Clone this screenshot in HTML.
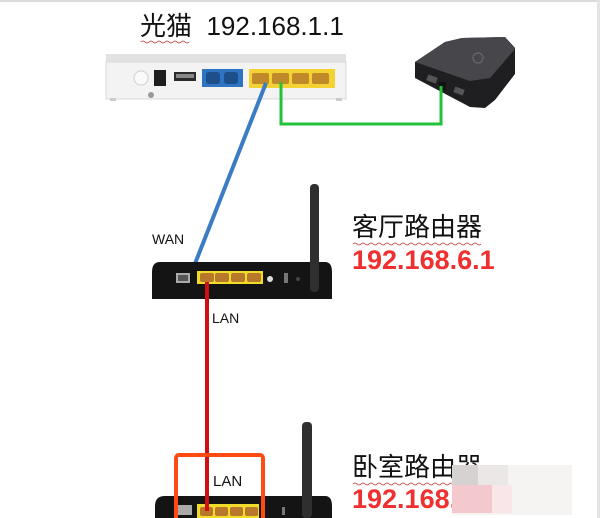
<!DOCTYPE html>
<html>
<head>
<meta charset="utf-8">
<style>
html,body{margin:0;padding:0;background:#fff;}
body{width:600px;height:518px;overflow:hidden;position:relative;font-family:"Liberation Sans","Noto Sans CJK SC",sans-serif;}
svg{position:absolute;left:0;top:0;}
.t{position:absolute;white-space:nowrap;line-height:1;}
</style>
</head>
<body>
<svg width="600" height="518" viewBox="0 0 600 518" style="z-index:1">
  <!-- borders -->
  <rect x="0" y="0" width="600" height="2" fill="#dcdcdc"/>
  <rect x="597" y="0" width="3" height="518" fill="#e4e4e4"/>

  <!-- modem -->
  <path d="M108,58 Q108,54 114,54 L340,54 Q346,54 346,60 L346,98 L106,98 Z" fill="#eeeeee"/>
  <rect x="106" y="54" width="240" height="8" fill="#e2e2e2"/>
  <rect x="106" y="62" width="240" height="37" fill="#f3f3f3" stroke="#dadada" stroke-width="1"/>
  <rect x="110" y="98" width="6" height="3" fill="#ccc"/>
  <rect x="336" y="98" width="6" height="3" fill="#ccc"/>
  <circle cx="141" cy="78" r="7" fill="#fafafa" stroke="#cfcfcf"/>
  <rect x="154" y="70" width="12" height="16" fill="#1e1e1e"/>
  <rect x="174" y="72" width="22" height="9" fill="#2a2a2a"/>
  <rect x="176" y="74" width="18" height="4" fill="#888"/>
  <rect x="202" y="69" width="41" height="18" fill="#2e74c0"/>
  <rect x="206" y="72" width="14" height="12" rx="3" fill="#1d4f8a"/>
  <rect x="224" y="72" width="14" height="12" rx="3" fill="#1d4f8a"/>
  <rect x="249" y="69" width="86" height="19" fill="#f2d333"/>
  <rect x="252" y="73" width="17" height="11" rx="2" fill="#c08a2a"/>
  <rect x="272" y="73" width="17" height="11" rx="2" fill="#c08a2a"/>
  <rect x="292" y="73" width="17" height="11" rx="2" fill="#c08a2a"/>
  <rect x="312" y="73" width="17" height="11" rx="2" fill="#c08a2a"/>
  <circle cx="151" cy="95" r="3" fill="#999"/>

  <!-- set-top box -->
  <path d="M415,62 L445,42 L462,38 L505,37 L515,48 L515,74 L495,100 L485,108 L470,107 L415,78 Z" fill="#1f1f22"/>
  <path d="M415,62 L445,42 L462,38 L505,37 L515,49 L490,78 L470,81 Z" fill="#46464b"/>
  <circle cx="478" cy="58" r="5" fill="none" stroke="#66666c" stroke-width="1.2"/>
  <rect x="427" y="76" width="10" height="6" fill="#555" transform="rotate(20 432 79)"/>
  <rect x="454" y="88" width="10" height="6" fill="#555" transform="rotate(20 459 91)"/>
  <rect x="439" y="82" width="7" height="8" fill="#111"/>

  <!-- cables -->
  <line x1="266" y1="83" x2="187" y2="284" stroke="#3b7cc4" stroke-width="4"/>
  <polyline points="281,82 281,124 441,124 441,86" fill="none" stroke="#22c33a" stroke-width="3"/>
  <line x1="207" y1="282" x2="207" y2="511" stroke="#d01010" stroke-width="4"/>

  <!-- router 1 -->
  <path d="M160,262 L325,262 Q332,262 332,272 L332,299 L152,299 L152,272 Q152,262 160,262 Z" fill="#141414"/>
  <rect x="310" y="184" width="9" height="108" rx="4" fill="#2f2f2f"/>
  <rect x="176" y="273" width="14" height="10" fill="#aaa"/>
  <rect x="178" y="275" width="10" height="6" fill="#555"/>
  <rect x="197" y="271" width="66" height="13" fill="#f0dc2a"/>
  <rect x="200" y="273" width="14" height="9" rx="2" fill="#b9772c"/>
  <rect x="215" y="273" width="14" height="9" rx="2" fill="#b9772c"/>
  <rect x="231" y="273" width="14" height="9" rx="2" fill="#b9772c"/>
  <rect x="247" y="273" width="14" height="9" rx="2" fill="#b9772c"/>
  <circle cx="270" cy="279" r="3" fill="#ddd"/>
  <rect x="284" y="273" width="4" height="10" fill="#777"/>
  <circle cx="298" cy="279" r="2" fill="#444"/>
  <line x1="207" y1="282" x2="207" y2="300" stroke="#d01010" stroke-width="4"/>

  <!-- router 2 -->
  <path d="M165,496 L325,496 Q332,496 332,506 L332,518 L155,518 L155,506 Q155,496 165,496 Z" fill="#141414"/>
  <rect x="302" y="422" width="10" height="96" rx="4" fill="#2f2f2f"/>
  <rect x="178" y="505" width="14" height="10" fill="#aaa"/>
  <rect x="197" y="504" width="62" height="14" fill="#f0dc2a"/>
  <rect x="200" y="507" width="13" height="9" rx="2" fill="#b9772c"/>
  <rect x="215" y="507" width="13" height="9" rx="2" fill="#b9772c"/>
  <rect x="230" y="507" width="13" height="9" rx="2" fill="#b9772c"/>
  <rect x="245" y="507" width="13" height="9" rx="2" fill="#b9772c"/>
  <line x1="207" y1="440" x2="207" y2="511" stroke="#d01010" stroke-width="4"/>
  <rect x="176" y="455" width="87" height="70" fill="none" stroke="#ff4a12" stroke-width="4" rx="3"/>
  <rect x="282" y="507" width="3" height="8" fill="#777"/>

  <!-- wavy underlines -->
  <path d="M141,42 q2,-2 4,0 t4,0 t4,0 t4,0 t4,0 t4,0 t4,0 t4,0 t4,0 t4,0 t4,0 t4,0" fill="none" stroke="#c33" stroke-width="0.8"/>
  <path d="M353,244 q2,-2 4,0 t4,0 t4,0 t4,0 t4,0 t4,0 t4,0 t4,0 t4,0 t4,0 t4,0 t4,0 t4,0 t4,0 t4,0 t4,0 t4,0 t4,0 t4,0 t4,0 t4,0 t4,0 t4,0 t4,0 t4,0 t4,0 t4,0 t4,0 t4,0 t4,0 t4,0 t4,0" fill="none" stroke="#c33" stroke-width="0.8"/>
  <path d="M353,484 q2,-2 4,0 t4,0 t4,0 t4,0 t4,0 t4,0 t4,0 t4,0 t4,0 t4,0 t4,0 t4,0 t4,0 t4,0 t4,0 t4,0 t4,0 t4,0 t4,0 t4,0 t4,0 t4,0 t4,0 t4,0 t4,0" fill="none" stroke="#c33" stroke-width="0.8"/>
</svg>

<div class="t" style="z-index:2;left:140px;top:13px;font-size:26px;color:#111;font-family:'Liberation Sans','Noto Sans CJK SC',sans-serif;">光猫&nbsp; 192.168.1.1</div>
<div class="t" style="z-index:2;left:152px;top:232px;font-size:14px;color:#111;">WAN</div>
<div class="t" style="z-index:2;left:212px;top:311px;font-size:14px;color:#111;">LAN</div>
<div class="t" style="z-index:2;left:213px;top:474px;font-size:15px;color:#111;">LAN</div>
<div class="t" style="z-index:2;left:352px;top:214px;font-size:26px;color:#111;font-family:'Liberation Sans','Noto Sans CJK SC',sans-serif;">客厅路由器</div>
<div class="t" style="z-index:2;left:352px;top:247px;font-size:27px;color:#f03030;font-weight:bold;">192.168.6.1</div>
<div class="t" style="z-index:2;left:352px;top:454px;font-size:26px;color:#111;font-family:'Liberation Sans','Noto Sans CJK SC',sans-serif;">卧室路由器</div>
<div class="t" style="z-index:2;left:352px;top:486px;font-size:27px;color:#f03030;font-weight:bold;">192.168.7.1</div>

<svg width="600" height="518" viewBox="0 0 600 518" style="z-index:3">
  <!-- blurred patch -->
  <rect x="452" y="465" width="120" height="50" fill="#f6f3f3"/>
  <rect x="452" y="465" width="26" height="20" fill="#d6d2d2"/>
  <rect x="478" y="465" width="30" height="20" fill="#ebe7e7"/>
  <rect x="452" y="485" width="40" height="28" fill="#f4c9cd"/>
  <rect x="492" y="485" width="20" height="28" fill="#f9e6e8"/>
</svg>
</body>
</html>
